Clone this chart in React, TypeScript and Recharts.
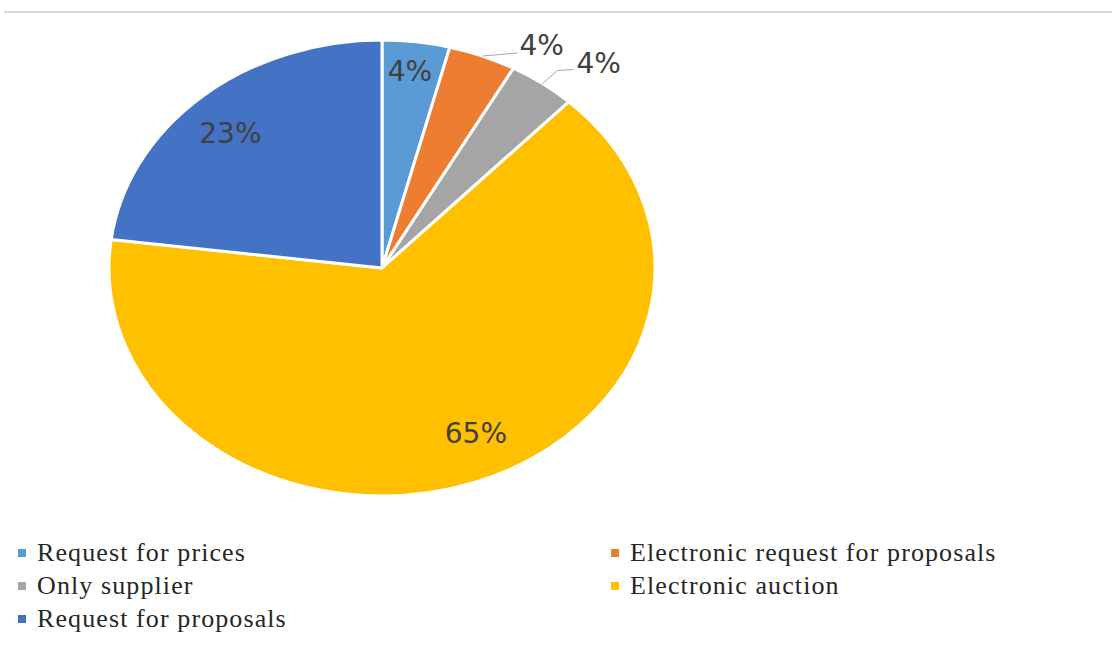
import { PieChart, Pie, Cell } from 'recharts'

const CATEGORIES = [
  'Request for prices',
  'Electronic request for proposals',
  'Only supplier',
  'Electronic auction',
  'Request for proposals',
]
const SHARES = [4, 4, 4, 65, 23]

const COLORS = ['#5B9BD5', '#ED7D31', '#A5A5A5', '#FFC000', '#4472C4']

// legend is laid out in two columns, row by row
const LEGEND_ORDER = [0, 1, 2, 3, 4]

const data = CATEGORIES.map((name, i) => ({ name, value: SHARES[i] }))

const X_STRETCH = 1.197 // the original pie is squashed into an ellipse
const RAD = Math.PI / 180

function pt(cx: number, cy: number, r: number, angle: number) {
  return [cx + Math.cos(-angle * RAD) * r * X_STRETCH, cy + Math.sin(-angle * RAD) * r]
}

function EllipseSector(props: any) {
  const { cx, cy, outerRadius, startAngle, endAngle, fill } = props
  const [sx, sy] = pt(cx, cy, outerRadius, startAngle)
  const [ex, ey] = pt(cx, cy, outerRadius, endAngle)
  const delta = Math.abs(startAngle - endAngle)
  const large = delta > 180 ? 1 : 0
  const sweep = startAngle > endAngle ? 1 : 0
  const d = `M${cx},${cy} L${sx},${sy} A${outerRadius * X_STRETCH},${outerRadius} 0 ${large} ${sweep} ${ex},${ey} Z`
  return <path d={d} fill={fill} stroke="#fff" strokeWidth={3} strokeLinejoin="round" />
}

// inside labels: radius factor and angle shift (deg), per slice
const INSIDE = [
  { r: 0.866, shift: 0.4 },
  null,
  null,
  { r: 0.805, shift: 5.5 },
  { r: 0.81, shift: 1.9 },
]

const labelFont = { fontFamily: '"DejaVu Sans", sans-serif', fontSize: 28, fill: '#404040' }

function renderLabel(props: any) {
  const { cx, cy, midAngle, outerRadius, index, value } = props
  const text = `${value}%`
  const ins = INSIDE[index]
  if (ins) {
    const [x, y] = pt(cx, cy, outerRadius * ins.r, midAngle + ins.shift)
    return (
      <text x={x} y={y} textAnchor="middle" dominantBaseline="central" {...labelFont}>
        {text}
      </text>
    )
  }
  const [ex, ey] = pt(cx, cy, outerRadius, midAngle)
  if (index === 1) {
    return (
      <g>
        <polyline points={`${ex},${ey} ${ex + 35},${ey - 3}`} fill="none" stroke="#a6a6a6" strokeWidth={1} />
        <text x={ex + 37} y={ey - 11} textAnchor="start" dominantBaseline="central" {...labelFont}>
          {text}
        </text>
      </g>
    )
  }
  return (
    <g>
      <polyline
        points={`${ex},${ey} ${ex + 15},${ey - 13} ${ex + 31},${ey - 14}`}
        fill="none"
        stroke="#a6a6a6"
        strokeWidth={1}
      />
      <text x={ex + 34} y={ey - 20} textAnchor="start" dominantBaseline="central" {...labelFont}>
        {text}
      </text>
    </g>
  )
}

export default function App() {
  return (
    <div style={{ position: 'absolute', left: 0, top: 0, width: 1112, height: 658, background: '#fff' }}>
      <div style={{ position: 'absolute', left: 4, top: 11, width: 1108, height: 2, background: '#d9d9d9' }} />
      <div style={{ position: 'absolute', left: 0, top: 0 }}>
        <PieChart width={1112} height={530} margin={{ top: 0, right: 0, bottom: 0, left: 0 }}>
          <Pie
            data={data}
            dataKey="value"
            nameKey="name"
            cx={382}
            cy={268}
            outerRadius={228}
            startAngle={90}
            endAngle={-270}
            shape={EllipseSector}
            label={renderLabel}
            labelLine={false}
            isAnimationActive={false}
          >
            {data.map((d, i) => (
              <Cell key={d.name} fill={COLORS[i]} />
            ))}
          </Pie>
        </PieChart>
      </div>
      {LEGEND_ORDER.map((idx, k) => {
        const col = k % 2
        const row = Math.floor(k / 2)
        return (
          <div
            key={CATEGORIES[idx]}
            style={{
              position: 'absolute',
              left: col === 0 ? 18 : 611,
              top: 538 + row * 33,
              height: 30,
              display: 'flex',
              alignItems: 'center',
              fontFamily: '"Liberation Serif", "Times New Roman", serif',
              fontSize: 26,
              letterSpacing: 1.1,
              color: '#262626',
              whiteSpace: 'nowrap',
            }}
          >
            <span style={{ width: 8, height: 8, background: COLORS[idx], marginRight: 11, display: 'inline-block' }} />
            {CATEGORIES[idx]}
          </div>
        )
      })}
    </div>
  )
}
